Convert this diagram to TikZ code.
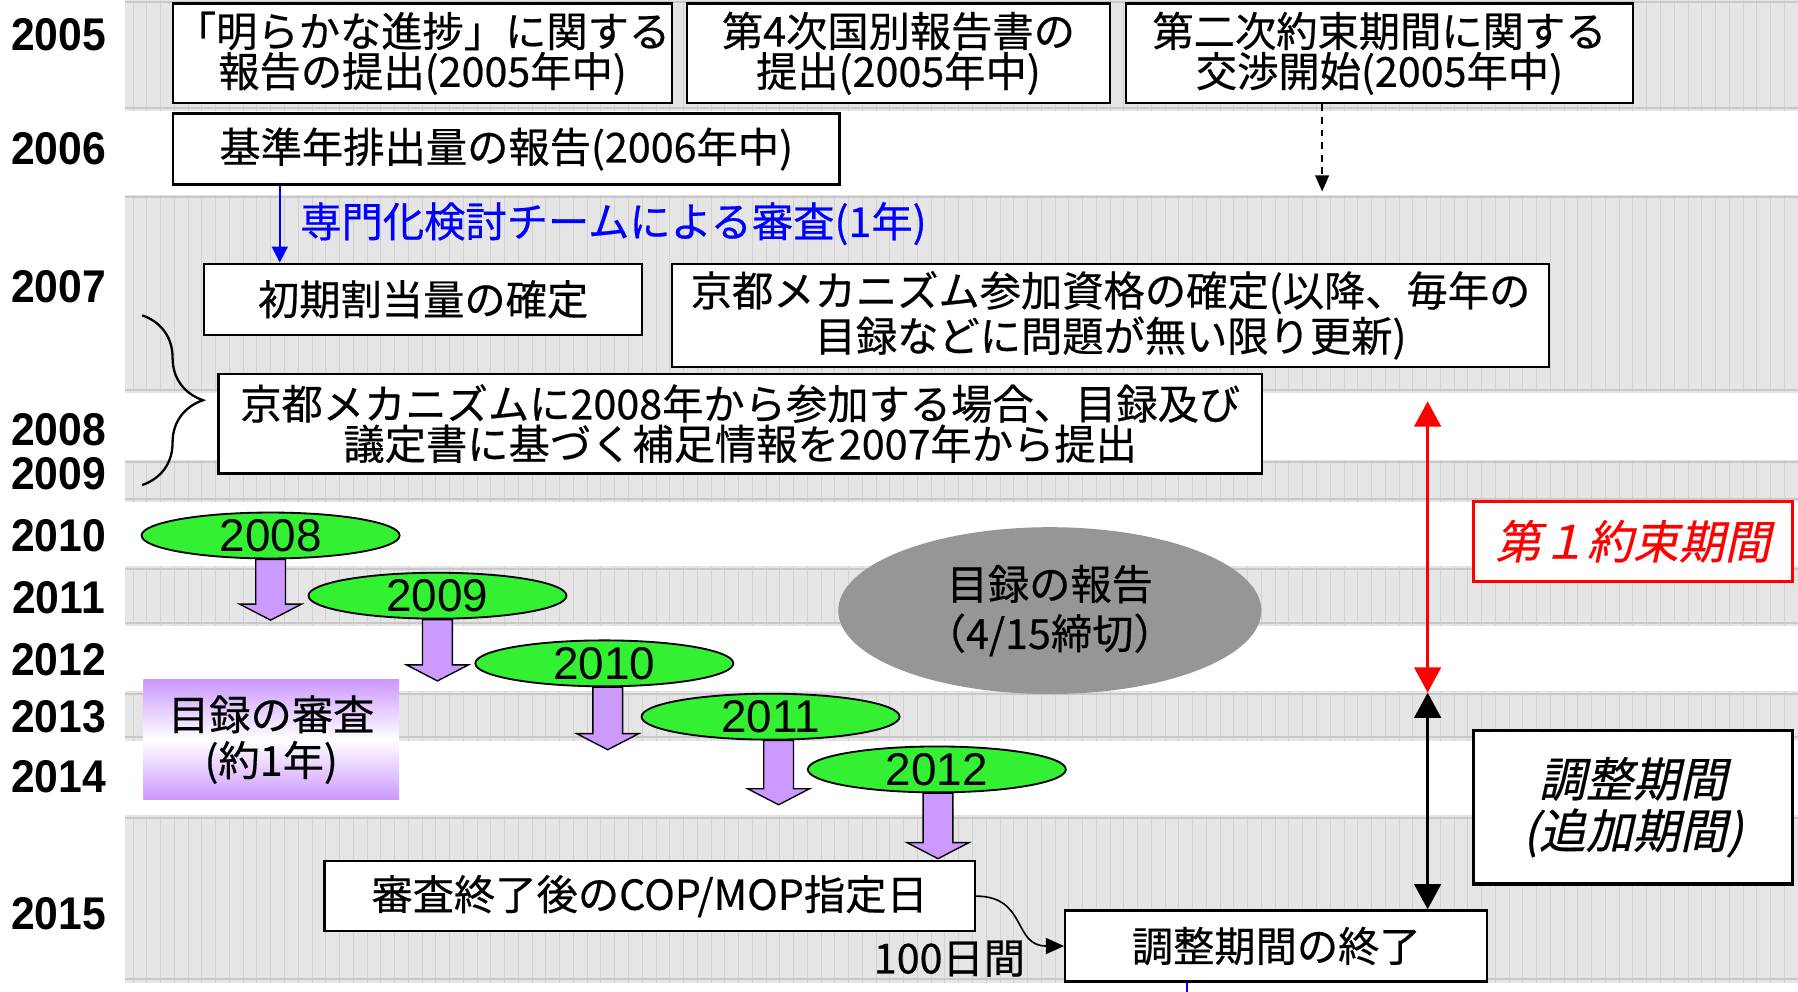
\documentclass[tikz,border=0pt]{standalone}
\usepackage{fontspec}
\usetikzlibrary{arrows.meta,shapes.geometric,decorations.pathreplacing,calc}
\newfontfamily\jp[FakeBold=0.5]{Noto Sans CJK JP}
\newfontfamily\jpit[FakeSlant=0.22,FakeBold=0.5]{Noto Sans CJK JP}
\newfontfamily\numf{Liberation Sans}
\newfontfamily\yearf[FakeStretch=0.93]{Liberation Sans}
\definecolor{bandfill}{RGB}{229,229,229}
\definecolor{bandline}{RGB}{210,210,210}
\definecolor{bandedge}{RGB}{200,200,200}
\definecolor{greenfill}{RGB}{51,240,51}
\definecolor{lav}{RGB}{204,153,255}
\definecolor{ellgray}{RGB}{150,150,150}
\newcommand\blockdown[3]{%
  \draw[blockarr] ($(#1.south)+(#2-13,0)$) -- ++(26,0) -- ++(0,#3) -- ++(14,0) -- ++(-27,14) -- ++(-27,-14) -- ++(14,0) -- cycle;}
\begin{document}
\begin{tikzpicture}[x=0.5pt,y=-0.5pt,
  box/.style={draw=black, line width=1pt, fill=white, inner sep=0pt, align=center,
    font=\jp\fontsize{18}{17.5}\selectfont},
  yearlbl/.style={font=\yearf\bfseries\fontsize{20}{20}\selectfont, inner sep=0pt},
  greenell/.style={ellipse, draw=black, line width=0.8pt, fill=greenfill, minimum width=112.5pt,
    minimum height=20pt, inner sep=0pt, font=\numf\fontsize{20}{20}\selectfont},
  blockarr/.style={draw=black, line width=0.6pt, fill=lav},
  plain/.style={inner sep=0pt, align=center, font=\jp\fontsize{18}{17.5}\selectfont}
]
\useasboundingbox (0,0) rectangle (1568,865);
\fill[white] (0,0) rectangle (1568,865);
% gray bands
\foreach \ya/\yb in {0/97, 170/343, 401/438, 494/546, 603/646, 711/857} {
  \fill[bandfill] (109,\ya) rectangle (1568,\yb);
  \foreach \xx in {116,128,...,1568} {\draw[bandline, line width=0.35pt] (\xx,\ya) -- (\xx,\yb);}
  \draw[bandedge, line width=0.8pt] (109,\ya+2) -- (1568,\ya+2);
  \draw[bandedge, line width=0.8pt] (109,\yb-3) -- (1568,\yb-3);
}
% year labels
\node[yearlbl] (y2005) at (51,30) {2005};
\node[yearlbl] (y2006) at (51,130) {2006};
\node[yearlbl] (y2007) at (51,250) {2007};
\node[yearlbl] (y2008) at (51,375) {2008};
\node[yearlbl] (y2009) at (51,413) {2009};
\node[yearlbl] (y2010) at (51,467) {2010};
\node[yearlbl] (y2011) at (51,521) {2011};
\node[yearlbl] (y2012) at (51,575) {2012};
\node[yearlbl] (y2013) at (51,625) {2013};
\node[yearlbl] (y2014) at (51,677) {2014};
\node[yearlbl] (y2015) at (51,797) {2015};
% boxes
\node[box, minimum width=217.5pt, minimum height=43.5pt] (b1) at (368.5,46.5) {「明らかな進捗」に関する\\報告の提出(2005年中)};
\node[box, minimum width=184.5pt, minimum height=43.5pt] (b2) at (783.5,46.5) {第4次国別報告書の\\提出(2005年中)};
\node[box, minimum width=221pt, minimum height=43.5pt] (b3) at (1203,46.5) {第二次約束期間に関する\\交渉開始(2005年中)};
\node[box, minimum width=290.5pt, minimum height=31pt] (b4) at (441.5,130) {基準年排出量の報告(2006年中)};
\node[box, minimum width=191pt, minimum height=31pt] (b5) at (369,261) {初期割当量の確定};
\node[box, minimum width=382.5pt, minimum height=45pt] (b6) at (968.5,275) {京都メカニズム参加資格の確定(以降、毎年の\\目録などに問題が無い限り更新)};
\node[box, minimum width=455pt, minimum height=43.5pt] (b7) at (645.5,369.5) {京都メカニズムに2008年から参加する場合、目録及び\\議定書に基づく補足情報を2007年から提出};
\node[box, minimum width=283.5pt, minimum height=30.5pt] (b8) at (566.5,781.5) {審査終了後のCOP/MOP指定日};
\node[box, minimum width=184pt, minimum height=31pt] (b9) at (1113,825) {調整期間の終了};
\node[box, draw=red, line width=1.3pt, text=red, minimum width=139pt, minimum height=35pt,
  font=\jpit\fontsize{20}{20}\selectfont] (p1) at (1424,472) {第１約束期間};
\node[box, line width=1.5pt, minimum width=139pt, minimum height=67pt,
  font=\jpit\fontsize{20.5}{22.5}\selectfont] (adj) at (1424,704) {調整期間\\(追加期間)};
% gray ellipse
\node[ellipse, fill=ellgray, minimum width=184.5pt, minimum height=72.75pt, inner sep=0pt, align=center,
  font=\jp\fontsize{18}{21.5}\selectfont] (rep) at (915.5,532.5) {目録の報告\\（4/15締切）};
% purple review box
\node[top color=lav, bottom color=lav, middle color=white, minimum width=111.5pt, minimum height=52pt,
  inner sep=0pt, align=center, font=\jp\fontsize{18}{20}\selectfont] (rev) at (236.5,645) {目録の審査\\(約1年)};
% green ellipses
\node[greenell] (e1) at (236,467) {2008};
\node[greenell] (e2) at (381.5,519.5) {2009};
\node[greenell] (e3) at (527,578.5) {2010};
\node[greenell] (e4) at (672,625) {2011};
\node[greenell] (e5) at (817,671) {2012};
\blockdown{e1}{0}{39}
\blockdown{e2}{0}{39.5}
\blockdown{e3}{3}{40.5}
\blockdown{e4}{7}{42}
\blockdown{e5}{1}{43}
% blue review arrow and label
\coordinate (bx) at (244,0);
\draw[blue, line width=0.7pt, -{Triangle[width=7pt,length=7pt]}] (b4.south -| bx) -- (b5.north -| bx);
\node[plain, text=blue] (bluelbl) at (535,195) {専門化検討チームによる審査(1年)};
% dashed arrow
\coordinate (dend) at (1153,167);
\draw[black, line width=0.6pt, dash pattern=on 3pt off 2.5pt, -{Triangle[width=6pt,length=7pt]}] (b3.south -| dend) -- (dend);
% brace
\coordinate (brt) at (124,275);
\coordinate (brb) at (124,423);
\draw[decorate, decoration={brace, amplitude=26.5pt}, line width=1pt] (brt) -- (brb);
% period arrows
\coordinate (rtop) at (1245,350);
\coordinate (rmid) at (1245,604);
\draw[red, line width=1.5pt, {Triangle[width=11.5pt,length=11pt]}-{Triangle[width=11.5pt,length=11pt]}] (rtop) -- (rmid);
\draw[black, line width=1.5pt, {Triangle[width=11.5pt,length=11pt]}-{Triangle[width=11.5pt,length=11pt]}] (rmid) -- (b9.north -| rmid);
% 100 days curve
\draw[black, line width=0.7pt, -{Triangle[width=7pt,length=8pt]}] (b8.east) to[out=0, in=180, looseness=1.3] (b9.west);
\node[plain] (days) at (828,836) {100日間};
% small blue line below
\coordinate (bl) at (1035,865);
\draw[blue, line width=0.6pt] (b9.south -| bl) -- (bl);
\end{tikzpicture}
\end{document}
